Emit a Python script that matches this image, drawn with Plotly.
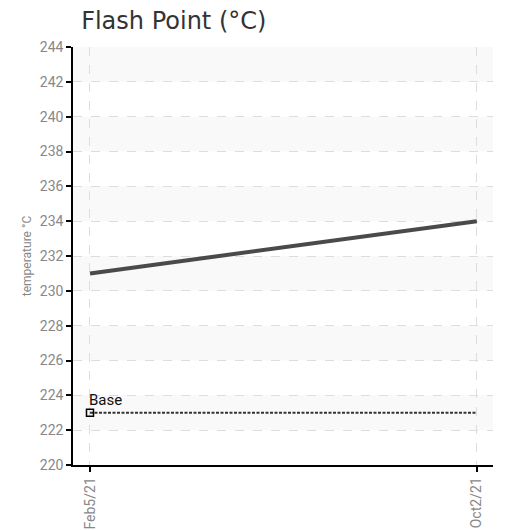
import plotly.graph_objects as go

dates = ["2021-02-05", "2021-10-02"]
tick_labels = ["Feb5/21", "Oct2/21"]
flash_point = [231, 234]
base_value = [223, 223]
y_ticks = list(range(220, 246, 2))

fig = go.Figure()

# alternating bands
for lo in range(222, 244, 4):
    fig.add_shape(type="rect", xref="paper", yref="y", x0=0, x1=1, y0=lo, y1=lo + 2,
                  fillcolor="#f9f9f9", line_width=0, layer="below")

fig.add_trace(go.Scatter(x=dates, y=base_value, mode="lines",
                         line=dict(color="#333333", width=2, dash="3px,1.5px"),
                         showlegend=False, hoverinfo="skip"))
fig.add_trace(go.Scatter(x=[dates[0]], y=[base_value[0]], mode="markers",
                         marker=dict(symbol="square-open", size=7, color="#000000",
                                     line=dict(width=1.5)),
                         showlegend=False))
fig.add_annotation(x=dates[0], y=base_value[0], text="Base", showarrow=False,
                   xanchor="left", yanchor="bottom", xshift=-3, yshift=2,
                   font=dict(family="Roboto, sans-serif", size=15, color="#111111"))
fig.add_trace(go.Scatter(x=dates, y=flash_point, mode="lines",
                         line=dict(color="#4a4a4a", width=4),
                         showlegend=False))

tickfont = dict(family="Roboto, sans-serif", size=14, color="#888888")

fig.update_layout(
    width=501, height=522,
    margin=dict(l=65, r=16, t=39, b=65),
    plot_bgcolor="white", paper_bgcolor="white",
    title=dict(text="Flash Point (°C)", x=0.146, xanchor="left", y=0.992, yanchor="top",
               font=dict(family="DejaVu Sans, Verdana, sans-serif", size=24, color="#333333")),
    xaxis=dict(type="date", range=["2021-01-25 12:00", "2021-10-12"], automargin=False,
               tickvals=dates, ticktext=tick_labels, tickangle=-90,
               tickfont=tickfont, showline=True, linecolor="#000000", linewidth=1.5,
               ticks="outside", ticklen=5, tickcolor="#000000", tickwidth=1.5,
               showgrid=True, gridcolor="#dddddd", griddash="dash", gridwidth=1,
               zeroline=False),
    yaxis=dict(range=[220, 244], tickvals=y_ticks, tickfont=tickfont, automargin=False,
               showline=True, linecolor="#000000", linewidth=1.5,
               ticks="outside", ticklen=5, tickcolor="#000000", tickwidth=1.5,
               showgrid=True, gridcolor="#dddddd", griddash="dash", gridwidth=1,
               zeroline=False,
               title=dict(text="temperature °C", standoff=6,
                          font=dict(family="Roboto, sans-serif",
                                    size=12, color="#888888"))),
)

fig.write_html("out.html")
